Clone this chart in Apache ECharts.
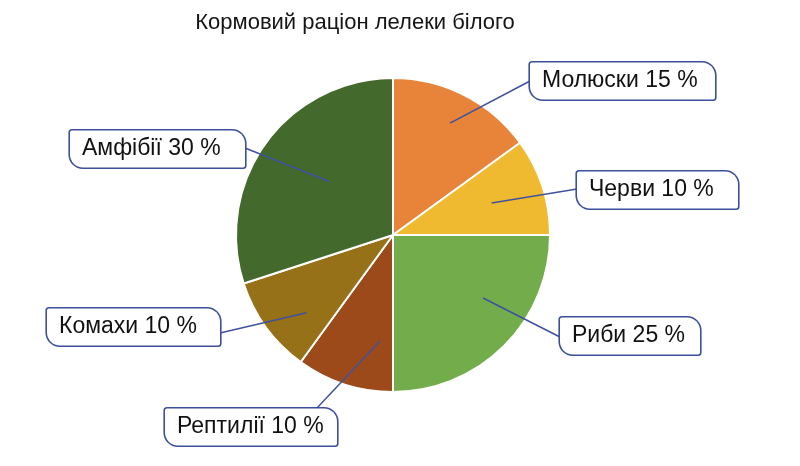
<!DOCTYPE html>
<html>
<head>
<meta charset="utf-8">
<script src="https://cdn.jsdelivr.net/npm/echarts@6/dist/echarts.min.js"></script>
<style>
html,body{margin:0;padding:0;background:#fff;}
#chart{width:800px;height:466px;}
</style>
</head>
<body>
<div id="chart"></div>
<script>
// ---- data ----
var titleText = 'Кормовий раціон лелеки білого';
var categories = ['Молюски', 'Черви', 'Риби', 'Рептилії', 'Комахи', 'Амфібії'];
var values = [15, 10, 25, 10, 10, 30];
var colors = ['#E8833A', '#F0BA30', '#72AC4B', '#9D4A1B', '#977117', '#44692C'];

// ---- layout (label box placement, leader depth) ----
var CX = 393, CY = 235, R = 157;
var PAD_L = 12, PAD_R = 16;
var boxPos = [
  {x: 530, y: 81,  w: 185, endX: 530, endY: 81},
  {x: 577, y: 190, w: 161, endX: 577, endY: 189},
  {x: 560, y: 336, w: 140, endX: 560, endY: 337},
  {x: 165, y: 427, w: 172, endX: 317, endY: 408},
  {x: 47,  y: 327, w: 173, endX: 220, endY: 333},
  {x: 70,  y: 149, w: 175, endX: 245, endY: 148}
];
var leaderDepth = [0.80, 0.66, 0.70, 0.68, 0.74, 0.53];
var leaderRot = [0, 0, -10, -11, -6, 4]; // degrees adjustment of leader start

var pieData = categories.map(function (c, i) {
  return {name: c, value: values[i], itemStyle: {color: colors[i]}};
});
var labelData = categories.map(function (c, i) {
  return {name: c, value: values[i]};
});

var chart = echarts.init(document.getElementById('chart'), null, {renderer: 'canvas'});
chart.setOption({
  animation: false,
  title: {
    text: titleText,
    left: 350,
    textAlign: 'center',
    top: 7,
    textStyle: {fontFamily: 'Liberation Sans', fontSize: 22, fontWeight: 'normal', color: '#151515'}
  },
  series: [{
    type: 'pie',
    z: 2,
    center: [CX, CY],
    radius: [0, R],
    startAngle: 90,
    clockwise: true,
    data: pieData,
    itemStyle: {borderColor: '#ffffff', borderWidth: 2},
    label: {show: false},
    labelLine: {show: false},
    emphasis: {disabled: true}
  }, {
    type: 'pie',
    z: 5,
    silent: true,
    center: [CX, CY],
    radius: [0, R],
    startAngle: 90,
    clockwise: true,
    avoidLabelOverlap: false,
    data: labelData,
    itemStyle: {color: 'rgba(0,0,0,0)', borderWidth: 0},
    label: {
      show: true,
      position: 'outside',
      overflow: 'none',
      formatter: '{b} {c} %',
      fontFamily: 'Liberation Sans',
      fontSize: 23,
      lineHeight: 23,
      color: '#111111',
      backgroundColor: '#ffffff',
      borderColor: '#3B4F9C',
      borderWidth: 1.6,
      borderRadius: [2, 13, 2, 13],
      padding: [7, PAD_R, 7, PAD_L]
    },
    labelLine: {
      show: true,
      length: 10,
      length2: 10,
      lineStyle: {color: '#3F52A0', width: 1.5}
    },
    labelLayout: function (params) {
      var i = params.dataIndex;
      var b = boxPos[i];
      var p0 = params.labelLinePoints ? params.labelLinePoints[0] : [CX, CY];
      var dx = p0[0] - CX, dy = p0[1] - CY;
      var a = leaderRot[i] * Math.PI / 180;
      var rx = dx * Math.cos(a) - dy * Math.sin(a);
      var ry = dx * Math.sin(a) + dy * Math.cos(a);
      var s = [CX + rx * leaderDepth[i], CY + ry * leaderDepth[i]];
      return {
        x: b.x,
        y: b.y,
        width: b.w - PAD_L - PAD_R,
        align: 'left',
        verticalAlign: 'middle',
        labelLinePoints: [s, [b.endX, b.endY]]
      };
    },
    emphasis: {disabled: true}
  }]
});
</script>
</body>
</html>
